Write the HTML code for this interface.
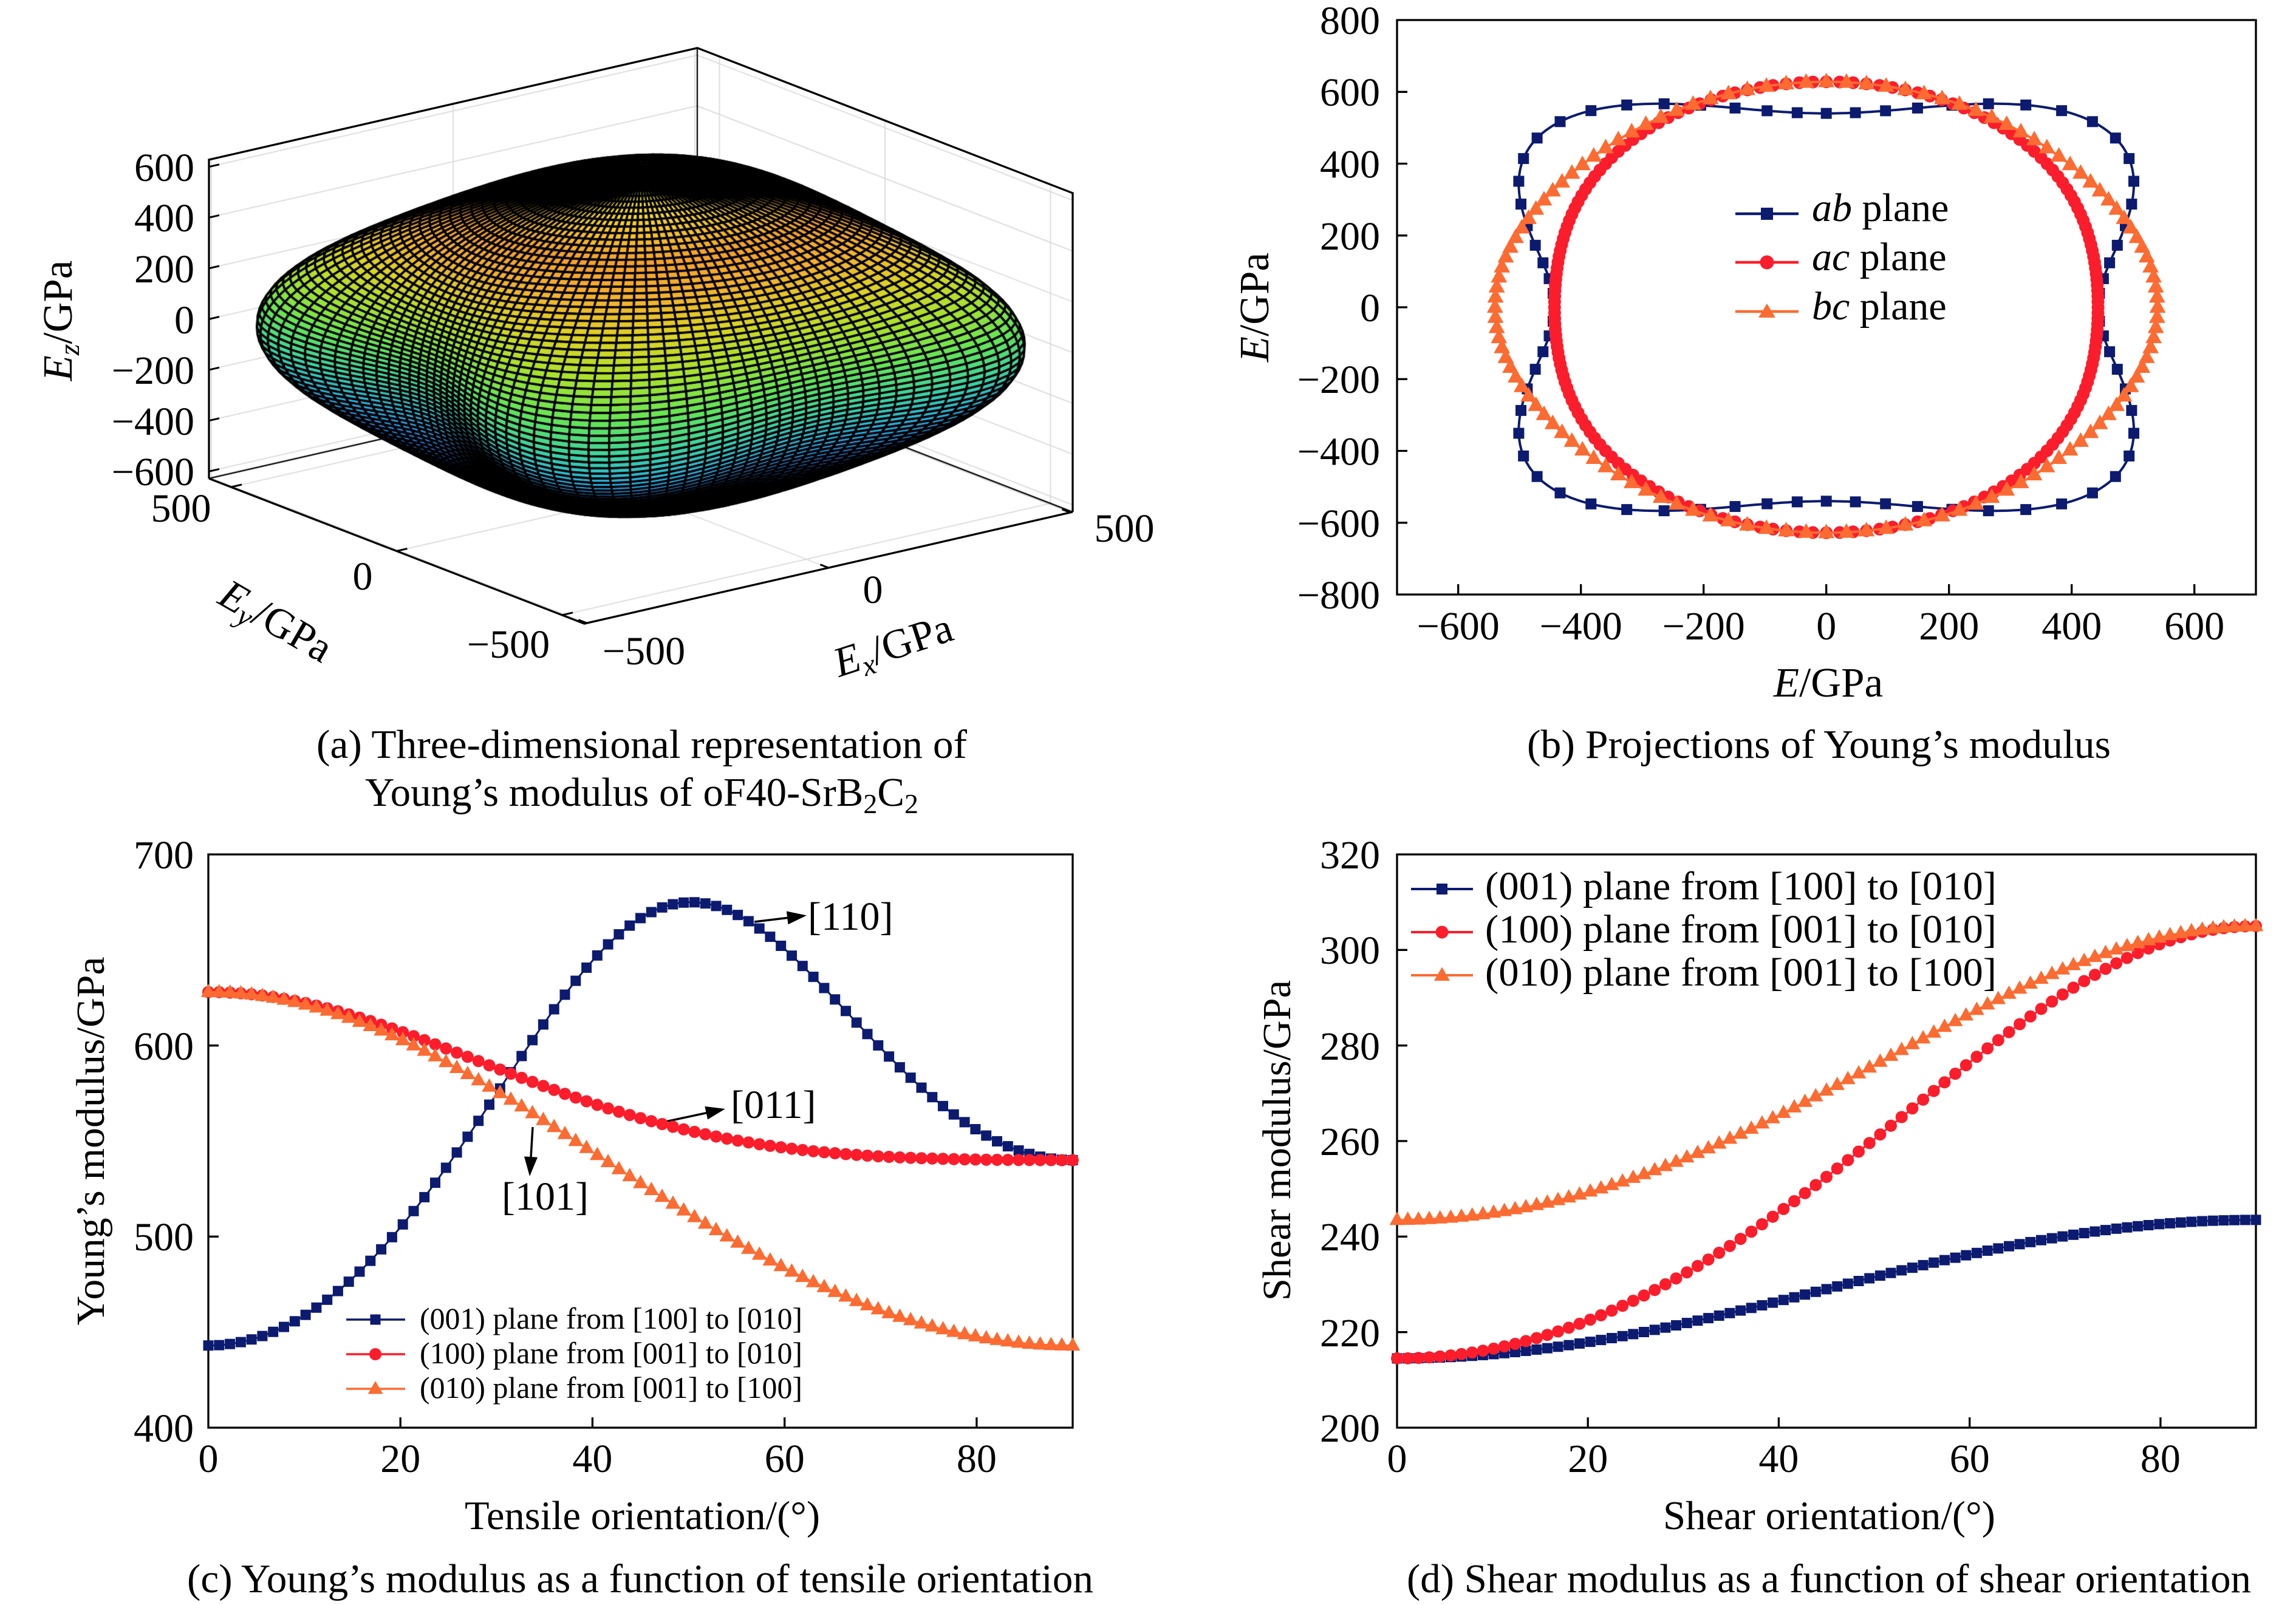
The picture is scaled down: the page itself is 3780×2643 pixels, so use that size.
<!DOCTYPE html>
<html><head><meta charset="utf-8">
<style>
html,body{margin:0;padding:0;background:#fff;}
body{width:3780px;height:2643px;position:relative;overflow:hidden;}
#cv{position:absolute;left:300px;top:40px;}
svg{position:absolute;left:0;top:0;}
text{font-family:"Liberation Serif","Times New Roman",serif;fill:#000;}
</style></head><body>
<canvas id="cv" width="1520" height="1020"></canvas>
<svg id="svg" width="3780" height="2643" viewBox="0 0 3780 2643" xmlns="http://www.w3.org/2000/svg">
<!-- ===== Panel (a) front box lines ===== -->
<g fill="none" stroke="#000" stroke-width="3.3" stroke-linejoin="miter">
<polyline points="344,788 344,263 1148,79 1766,318 1766,843"/>
<polyline points="344,788 962,1027 1766,843"/>
</g>
<g stroke="#000" stroke-width="3">
<line x1="344" y1="274.7" x2="361" y2="270.8"/>
<line x1="344" y1="358.3" x2="361" y2="354.4"/>
<line x1="344" y1="441.9" x2="361" y2="438"/>
<line x1="344" y1="525.5" x2="361" y2="521.6"/>
<line x1="344" y1="609.1" x2="361" y2="605.2"/>
<line x1="344" y1="692.7" x2="361" y2="688.8"/>
<line x1="344" y1="776.3" x2="361" y2="772.4"/>
<line x1="380.5" y1="802" x2="398" y2="798"/>
<line x1="653" y1="907.4" x2="670.5" y2="903.4"/>
<line x1="925.5" y1="1012.8" x2="943" y2="1008.8"/>
<line x1="966" y1="1026" x2="952.4" y2="1020.7"/>
<line x1="1364" y1="935" x2="1350.4" y2="929.7"/>
<line x1="1762" y1="844" x2="1748.4" y2="838.7"/>
</g>
<g font-size="66" text-anchor="end">
<text x="320" y="298">600</text>
<text x="320" y="381">400</text>
<text x="320" y="465">200</text>
<text x="320" y="549">0</text>
<text x="320" y="632">−200</text>
<text x="320" y="716">−400</text>
<text x="320" y="799">−600</text>
</g>
<g font-size="66" text-anchor="middle">
<text x="298" y="859">500</text>
<text x="597" y="971">0</text>
<text x="837" y="1083">−500</text>
<text x="1060" y="1094">−500</text>
<text x="1437" y="993">0</text>
<text x="1851" y="892">500</text>
</g>
<text font-size="69" text-anchor="middle" transform="translate(118,528) rotate(-90)"><tspan font-style="italic">E</tspan><tspan font-style="italic" font-size="48" dy="12">z</tspan><tspan dy="-12">/GPa</tspan></text>
<text font-size="69" text-anchor="middle" transform="translate(453,1025) rotate(30)"><tspan x="0" y="20" font-style="italic">E</tspan><tspan font-style="italic" font-size="48" dy="12">y</tspan><tspan dy="-12">/GPa</tspan></text>
<text font-size="69" text-anchor="middle" transform="translate(1471,1065) rotate(-18)"><tspan x="0" y="20" font-style="italic">E</tspan><tspan font-style="italic" font-size="48" dy="12">x</tspan><tspan dy="-12">/GPa</tspan></text>
<text font-size="67" x="521" y="1248" textLength="1071" lengthAdjust="spacingAndGlyphs">(a) Three-dimensional representation of</text>
<text font-size="67" x="601" y="1327" textLength="911" lengthAdjust="spacingAndGlyphs">Young’s modulus of oF40-SrB<tspan font-size="46" dy="12">2</tspan><tspan dy="-12">C</tspan><tspan font-size="46" dy="12">2</tspan></text>

<!-- ===== Panel (b) ===== -->
<rect x="2300" y="33" width="1414" height="946" fill="none" stroke="#000" stroke-width="3.3"/>
<g stroke="#000" stroke-width="3.3">
<line x1="2400.7" y1="979" x2="2400.7" y2="962"/>
<line x1="2602.7" y1="979" x2="2602.7" y2="962"/>
<line x1="2804.7" y1="979" x2="2804.7" y2="962"/>
<line x1="3006.7" y1="979" x2="3006.7" y2="962"/>
<line x1="3208.7" y1="979" x2="3208.7" y2="962"/>
<line x1="3410.7" y1="979" x2="3410.7" y2="962"/>
<line x1="3612.7" y1="979" x2="3612.7" y2="962"/>
<line x1="2300" y1="151.3" x2="2317" y2="151.3"/>
<line x1="2300" y1="269.5" x2="2317" y2="269.5"/>
<line x1="2300" y1="387.8" x2="2317" y2="387.8"/>
<line x1="2300" y1="506" x2="2317" y2="506"/>
<line x1="2300" y1="624.3" x2="2317" y2="624.3"/>
<line x1="2300" y1="742.5" x2="2317" y2="742.5"/>
<line x1="2300" y1="860.8" x2="2317" y2="860.8"/>
</g>
<g font-size="66" text-anchor="middle">
<text x="2400.7" y="1053">−600</text>
<text x="2602.7" y="1053">−400</text>
<text x="2804.7" y="1053">−200</text>
<text x="3006.7" y="1053">0</text>
<text x="3208.7" y="1053">200</text>
<text x="3410.7" y="1053">400</text>
<text x="3612.7" y="1053">600</text>
</g>
<g font-size="66" text-anchor="end">
<text x="2272" y="56">800</text>
<text x="2272" y="174">600</text>
<text x="2272" y="292.5">400</text>
<text x="2272" y="411">200</text>
<text x="2272" y="529">0</text>
<text x="2272" y="647">−200</text>
<text x="2272" y="765.5">−400</text>
<text x="2272" y="884">−600</text>
<text x="2272" y="1002">−800</text>
</g>
<text font-size="69" text-anchor="middle" transform="translate(2088,506) rotate(-90)"><tspan font-style="italic">E</tspan>/GPa</text>
<text font-size="69" text-anchor="middle" x="3010" y="1147"><tspan font-style="italic">E</tspan>/GPa</text>
<text font-size="67" x="2514" y="1248" textLength="961" lengthAdjust="spacingAndGlyphs">(b) Projections of Young’s modulus</text>

<!-- ===== Panel (c) ===== -->
<rect x="343" y="1407" width="1423" height="944" fill="none" stroke="#000" stroke-width="3.3"/>
<g stroke="#000" stroke-width="3.3">
<line x1="659.2" y1="2351" x2="659.2" y2="2334"/>
<line x1="975.4" y1="2351" x2="975.4" y2="2334"/>
<line x1="1291.7" y1="2351" x2="1291.7" y2="2334"/>
<line x1="1607.9" y1="2351" x2="1607.9" y2="2334"/>
<line x1="343" y1="2036.3" x2="360" y2="2036.3"/>
<line x1="343" y1="1721.7" x2="360" y2="1721.7"/>
</g>
<g font-size="66" text-anchor="middle">
<text x="343" y="2424">0</text>
<text x="659.2" y="2424">20</text>
<text x="975.4" y="2424">40</text>
<text x="1291.7" y="2424">60</text>
<text x="1607.9" y="2424">80</text>
</g>
<g font-size="66" text-anchor="end">
<text x="319" y="1430">700</text>
<text x="319" y="1745">600</text>
<text x="319" y="2059">500</text>
<text x="319" y="2374">400</text>
</g>
<text font-size="66" text-anchor="middle" transform="translate(171,1879) rotate(-90)" textLength="607" lengthAdjust="spacingAndGlyphs">Young’s modulus/GPa</text>
<text font-size="67" x="765" y="2518" textLength="585" lengthAdjust="spacingAndGlyphs">Tensile orientation/(°)</text>
<text font-size="67" x="308" y="2622" textLength="1492" lengthAdjust="spacingAndGlyphs">(c) Young’s modulus as a function of tensile orientation</text>
<!-- annotations -->
<g font-size="66">
<text x="1330" y="1531">[110]</text>
<text x="1203" y="1841">[011]</text>
<text x="826" y="1992">[101]</text>
</g>
<g stroke="#000" stroke-width="3.5">
<line x1="1242" y1="1518" x2="1297" y2="1511.4"/>
<line x1="1096" y1="1847" x2="1163" y2="1832.7"/>
<line x1="877" y1="1856" x2="874" y2="1906"/>
</g>
<g fill="#000">
<polygon points="1328,1507.5 1297.5,1522.3 1294.9,1500.5"/>
<polygon points="1194,1826 1165,1843.5 1160.4,1821.9"/>
<polygon points="872,1937 885,1905.8 863,1904.4"/>
</g>
<!-- legend (c) -->
<g stroke-width="3.5">
<line x1="570" y1="2173" x2="667" y2="2173" stroke="#0c1b70"/>
<line x1="570" y1="2230" x2="667" y2="2230" stroke="#fb1d2b"/>
<line x1="570" y1="2287" x2="667" y2="2287" stroke="#fc6b32"/>
</g>
<rect x="609.5" y="2164.5" width="17" height="17" fill="#0c1b70"/>
<circle cx="618" cy="2230" r="10" fill="#fb1d2b"/>
<polygon points="618,2274 605.7,2295.4 630.3,2295.4" fill="#fc6b32"/>
<g font-size="50">
<text x="691" y="2188" textLength="630" lengthAdjust="spacingAndGlyphs">(001) plane from [100] to [010]</text>
<text x="691" y="2245" textLength="630" lengthAdjust="spacingAndGlyphs">(100) plane from [001] to [010]</text>
<text x="691" y="2302" textLength="630" lengthAdjust="spacingAndGlyphs">(010) plane from [001] to [100]</text>
</g>

<!-- ===== Panel (d) ===== -->
<rect x="2300" y="1407" width="1414" height="944" fill="none" stroke="#000" stroke-width="3.3"/>
<g stroke="#000" stroke-width="3.3">
<line x1="2614.2" y1="2351" x2="2614.2" y2="2334"/>
<line x1="2928.4" y1="2351" x2="2928.4" y2="2334"/>
<line x1="3242.7" y1="2351" x2="3242.7" y2="2334"/>
<line x1="3556.9" y1="2351" x2="3556.9" y2="2334"/>
<line x1="2300" y1="1564.3" x2="2317" y2="1564.3"/>
<line x1="2300" y1="1721.7" x2="2317" y2="1721.7"/>
<line x1="2300" y1="1879" x2="2317" y2="1879"/>
<line x1="2300" y1="2036.3" x2="2317" y2="2036.3"/>
<line x1="2300" y1="2193.7" x2="2317" y2="2193.7"/>
</g>
<g font-size="66" text-anchor="middle">
<text x="2300" y="2424">0</text>
<text x="2614.2" y="2424">20</text>
<text x="2928.4" y="2424">40</text>
<text x="3242.7" y="2424">60</text>
<text x="3556.9" y="2424">80</text>
</g>
<g font-size="66" text-anchor="end">
<text x="2272" y="1430">320</text>
<text x="2272" y="1587">300</text>
<text x="2272" y="1745">280</text>
<text x="2272" y="1902">260</text>
<text x="2272" y="2059">240</text>
<text x="2272" y="2217">220</text>
<text x="2272" y="2374">200</text>
</g>
<text font-size="66" text-anchor="middle" transform="translate(2124,1878) rotate(-90)" textLength="528" lengthAdjust="spacingAndGlyphs">Shear modulus/GPa</text>
<text font-size="67" x="2738" y="2518" textLength="547" lengthAdjust="spacingAndGlyphs">Shear orientation/(°)</text>
<text font-size="67" x="2316" y="2622" textLength="1390" lengthAdjust="spacingAndGlyphs">(d) Shear modulus as a function of shear orientation</text>
<!-- legend (d) -->
<g stroke-width="4">
<line x1="2323" y1="1464" x2="2425" y2="1464" stroke="#0c1b70"/>
<line x1="2323" y1="1535" x2="2425" y2="1535" stroke="#fb1d2b"/>
<line x1="2323" y1="1606" x2="2425" y2="1606" stroke="#fc6b32"/>
</g>
<rect x="2365" y="1455" width="18" height="18" fill="#0c1b70"/>
<circle cx="2374" cy="1535" r="10.5" fill="#fb1d2b"/>
<polygon points="2374,1592.5 2361,1615 2387,1615" fill="#fc6b32"/>
<g font-size="66">
<text x="2445" y="1481" textLength="842" lengthAdjust="spacingAndGlyphs">(001) plane from [100] to [010]</text>
<text x="2445" y="1552" textLength="842" lengthAdjust="spacingAndGlyphs">(100) plane from [001] to [010]</text>
<text x="2445" y="1623" textLength="842" lengthAdjust="spacingAndGlyphs">(010) plane from [001] to [100]</text>
</g>

<!-- legend (b) -->
<g stroke-width="4.5">
<line x1="2857" y1="352" x2="2961" y2="352" stroke="#0c1b70"/>
<line x1="2857" y1="432" x2="2961" y2="432" stroke="#fb1d2b"/>
<line x1="2857" y1="513" x2="2961" y2="513" stroke="#fc6b32"/>
</g>
<rect x="2899" y="342" width="20" height="20" fill="#0c1b70"/>
<circle cx="2909" cy="432" r="11.5" fill="#fb1d2b"/>
<polygon points="2909,500 2895,523 2923,523" fill="#fc6b32"/>
<g font-size="66">
<text x="2983" y="364"><tspan font-style="italic">ab</tspan> plane</text>
<text x="2983" y="445"><tspan font-style="italic">ac</tspan> plane</text>
<text x="2983" y="526"><tspan font-style="italic">bc</tspan> plane</text>
</g>

<g id="ser"></g>
</svg>
<script>
(function(){
var NS='http://www.w3.org/2000/svg';
var ser=document.getElementById('ser');
function add(tag,a){var e=document.createElementNS(NS,tag);for(var k in a)e.setAttribute(k,a[k]);ser.appendChild(e);return e;}
function pl(p,col,w){add('polyline',{points:p.map(function(q){return q[0].toFixed(1)+','+q[1].toFixed(1);}).join(' '),fill:'none',stroke:col,'stroke-width':w,'stroke-linejoin':'round'});}
function mk(t,x,y,col,s){
 if(t==='s')add('rect',{x:(x-s/2).toFixed(1),y:(y-s/2).toFixed(1),width:s,height:s,fill:col});
 else if(t==='c')add('circle',{cx:x.toFixed(1),cy:y.toFixed(1),r:s/2,fill:col});
 else add('polygon',{points:x.toFixed(1)+','+(y-s*0.62).toFixed(1)+' '+(x-s*0.56).toFixed(1)+','+(y+s*0.38).toFixed(1)+' '+(x+s*0.56).toFixed(1)+','+(y+s*0.38).toFixed(1),fill:col});
}
var NV='#0c1b70',RD='#fb1d2b',OR='#fc6b32';
var S11=1/443,S22=1/540,S33=1/628,A=0.001891,B=0.0036733,C=0.0037261;
function f2(a,b,k){return function(t){var c=Math.cos(t),s=Math.sin(t),c2=c*c,s2=s*s;return 1/(a*c2*c2+b*s2*s2+k*c2*s2);};}
var Eab=f2(S11,S22,A),Eac=f2(S11,S33,C),Ebc=f2(S22,S33,B);
var R=Math.PI/180;
/* ---- panel (b) ---- */
var bx=function(v){return 3006.7+v*1.01;},by=function(v){return 506-v*0.59125;};
function polar(E,step,n){var p=[];for(var i=0;i<n;i++){var d=i*step,t=d*R,r=E(t);p.push([bx(r*Math.cos(t)),by(r*Math.sin(t))]);}return p;}
var lp;
lp=polar(Eab,0.5,721);pl(lp,NV,4);polar(Eab,5,72).forEach(function(q){mk('s',q[0],q[1],NV,18);});
lp=polar(Eac,0.5,721);pl(lp,RD,4);polar(Eac,2,180).forEach(function(q){mk('c',q[0],q[1],RD,21);});
lp=polar(Ebc,0.5,721);pl(lp,OR,4);polar(Ebc,3,120).forEach(function(q){mk('t',q[0],q[1],OR,24);});
/* ---- panel (c) ---- */
function series(f,X,Y,step){var p=[];for(var i=0;;i++){var d=i*step;if(d>90+1e-9)break;p.push([X(d),Y(f(d))]);}return p;}
var cxv=function(v){return 343+v*15.811;},cyv=function(v){return 2351-(v-400)*3.1467;};
var cN=function(th){return Eab(th*R);},cR=function(th){return Ebc((90-th)*R);},cO=function(th){return Eac((90-th)*R);};
[[cN,NV,'s',17],[cR,RD,'c',20],[cO,OR,'t',22]].forEach(function(s){
 pl(series(s[0],cxv,cyv,0.5),s[1],3);
 series(s[0],cxv,cyv,1.125).forEach(function(q){mk(s[2],q[0],q[1],s[1],s[3]);});
});
/* ---- panel (d) ---- */
var dxv=function(v){return 2300+v*15.711;},dyv=function(v){return 2351-(v-200)*7.8667;};
var gN=function(th){var s=Math.sin(th*R);return 214.5+29*s*s;};
var gR=function(th){var c=Math.cos(th*R),s=Math.sin(th*R),c2=c*c,s2=s*s;return 1/(c2*c2/214.5+s2*s2/305+0.0079006*c2*s2);};
var gO=function(th){var c=Math.cos(th*R),s=Math.sin(th*R),c2=c*c,s2=s*s;return 1/(c2*c2/243.5+s2*s2/305+0.0073988*c2*s2);};
[[gN,NV,'s',17],[gR,RD,'c',20],[gO,OR,'t',22]].forEach(function(s){
 pl(series(s[0],dxv,dyv,0.5),s[1],3);
 series(s[0],dxv,dyv,1.125).forEach(function(q){mk(s[2],q[0],q[1],s[1],s[3]);});
});

/* ---- panel (a) surface on canvas ---- */
var cv=document.getElementById('cv');var ctx=cv.getContext('2d');
ctx.translate(-300,-40);
function P(x,y,z){return [1055+0.796*x-0.545*y,553-0.182*x-0.2108*y-0.418*z];}
function ln(a,b){ctx.beginPath();ctx.moveTo(a[0],a[1]);ctx.lineTo(b[0],b[1]);ctx.stroke();}
var XM=505,YM=567,ZM=628;
ctx.strokeStyle='#dadada';ctx.lineWidth=1.8;
[-500,0,500].forEach(function(v){
 ln(P(v,YM,-ZM),P(v,YM,ZM));
 ln(P(XM,v,-ZM),P(XM,v,ZM));
 ln(P(v,-YM,-ZM),P(v,YM,-ZM));
 ln(P(-XM,v,-ZM),P(XM,v,-ZM));
});
for(var z=-600;z<=600;z+=200){ln(P(-XM,YM,z),P(XM,YM,z));ln(P(XM,-YM,z),P(XM,YM,z));}
ctx.strokeStyle='#000';ctx.lineWidth=2.2;
ln(P(XM,YM,ZM),P(XM,YM,-ZM));ln(P(-XM,YM,-ZM),P(XM,YM,-ZM));ln(P(XM,YM,-ZM),P(XM,-YM,-ZM));
function E3(l1,l2,l3){var a=l1*l1,b=l2*l2,c=l3*l3;return 1/(S11*a*a+S22*b*b+S33*c*c+A*a*b+C*a*c+B*b*c);}
var PAR=[[0,40,40,150],[0.15,25,80,220],[0.28,30,130,235],[0.38,40,175,220],[0.48,60,210,160],[0.58,100,228,85],[0.68,170,225,45],[0.76,220,210,35],[0.84,245,175,45],[0.9,245,160,40],[1,245,240,30]];
function par(t){t=Math.max(0,Math.min(1,t));for(var k=1;k<PAR.length;k++){if(t<=PAR[k][0]){var a=PAR[k-1],b=PAR[k],u=(t-a[0])/(b[0]-a[0]);return 'rgb('+Math.round(a[1]+(b[1]-a[1])*u)+','+Math.round(a[2]+(b[2]-a[2])*u)+','+Math.round(a[3]+(b[3]-a[3])*u)+')';}}return 'rgb(245,240,30)';}
var NT=80,NP=120,pts=[];
for(var i=0;i<=NT;i++){var th=Math.PI*i/NT,row=[];for(var j=0;j<=NP;j++){var ph=2*Math.PI*j/NP;var l1=Math.sin(th)*Math.cos(ph),l2=Math.sin(th)*Math.sin(ph),l3=Math.cos(th);var r=E3(l1,l2,l3);row.push([r*l1,r*l2,r*l3]);}pts.push(row);}
var v=[-1,-1.4606,1.1719];
var faces=[];
for(i=0;i<NT;i++)for(j=0;j<NP;j++){
 var p00=pts[i][j],p10=pts[i+1][j],p11=pts[i+1][j+1],p01=pts[i][j+1];
 var d1=[p11[0]-p00[0],p11[1]-p00[1],p11[2]-p00[2]],d2=[p01[0]-p10[0],p01[1]-p10[1],p01[2]-p10[2]];
 var n=[d1[1]*d2[2]-d1[2]*d2[1],d1[2]*d2[0]-d1[0]*d2[2],d1[0]*d2[1]-d1[1]*d2[0]];
 if(n[0]*v[0]+n[1]*v[1]+n[2]*v[2]<=0)continue;
 var cx=(p00[0]+p10[0]+p11[0]+p01[0])/4,cy=(p00[1]+p10[1]+p11[1]+p01[1])/4,cz=(p00[2]+p10[2]+p11[2]+p01[2])/4;
 faces.push([cx*v[0]+cy*v[1]+cz*v[2],cz,P(p00[0],p00[1],p00[2]),P(p10[0],p10[1],p10[2]),P(p11[0],p11[1],p11[2]),P(p01[0],p01[1],p01[2])]);
}
faces.sort(function(a,b){return a[0]-b[0];});
ctx.strokeStyle='#000';ctx.lineWidth=3.6;ctx.lineJoin='round';
for(i=0;i<faces.length;i++){var f=faces[i];
 ctx.beginPath();ctx.moveTo(f[2][0],f[2][1]);ctx.lineTo(f[3][0],f[3][1]);ctx.lineTo(f[4][0],f[4][1]);ctx.lineTo(f[5][0],f[5][1]);ctx.closePath();
 ctx.fillStyle=par((f[1]+628)/1256);ctx.fill();ctx.stroke();}
})();
</script>
</body></html>
